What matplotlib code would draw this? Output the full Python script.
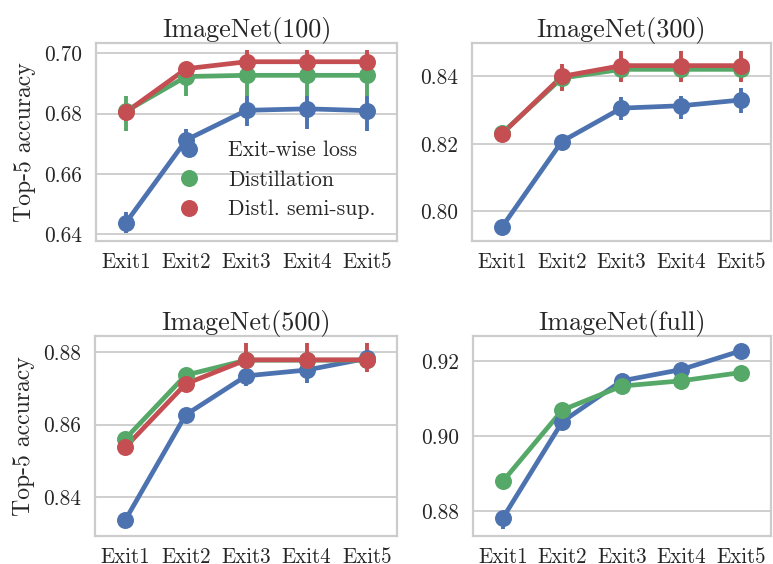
import numpy as np
import matplotlib
matplotlib.use("Agg")
import matplotlib.pyplot as plt
import seaborn as sns
from matplotlib.lines import Line2D

sns.set_style("whitegrid")
plt.rcParams['font.family'] = ['cmr10', 'DejaVu Serif']
plt.rcParams['mathtext.fontset'] = 'cm'
plt.rcParams['axes.formatter.use_mathtext'] = True

exits = ["Exit1", "Exit2", "Exit3", "Exit4", "Exit5"]
methods = ["Exit-wise loss", "Distillation", "Distl. semi-sup."]
colors = ["#4C72B0", "#55A868", "#C44E52"]
titles = ["ImageNet(100)", "ImageNet(300)", "ImageNet(500)", "ImageNet(full)"]

# mean top-5 accuracy per exit, with lower / upper confidence bounds
in100_exitwise = [0.6439, 0.6713, 0.6811, 0.6816, 0.6810]
in100_exitwise_lo = [0.6405, 0.6680, 0.6760, 0.6750, 0.6743]
in100_exitwise_hi = [0.6473, 0.6749, 0.6857, 0.6857, 0.6860]
in100_distil = [0.6808, 0.6923, 0.6927, 0.6927, 0.6927]
in100_distil_lo = [0.6744, 0.6857, 0.6857, 0.6857, 0.6857]
in100_distil_hi = [0.6857, 0.6965, 0.6980, 0.6980, 0.6980]
in100_semi = [0.6805, 0.6949, 0.6972, 0.6972, 0.6972]
in100_semi_lo = [0.6775, 0.6935, 0.6934, 0.6934, 0.6934]
in100_semi_hi = [0.6835, 0.6963, 0.7011, 0.7011, 0.7011]

in300_exitwise = [0.7954, 0.8207, 0.8306, 0.8313, 0.8330]
in300_exitwise_lo = [0.7949, 0.8199, 0.8270, 0.8275, 0.8291]
in300_exitwise_hi = [0.7959, 0.8215, 0.8339, 0.8342, 0.8366]
in300_distil = [0.8232, 0.8395, 0.8421, 0.8421, 0.8421]
in300_distil_lo = [0.8215, 0.8360, 0.8385, 0.8385, 0.8385]
in300_distil_hi = [0.8245, 0.8430, 0.8460, 0.8460, 0.8460]
in300_semi = [0.8230, 0.8400, 0.8432, 0.8432, 0.8432]
in300_semi_lo = [0.8214, 0.8356, 0.8384, 0.8384, 0.8384]
in300_semi_hi = [0.8247, 0.8438, 0.8475, 0.8475, 0.8475]

in500_exitwise = [0.8338, 0.8627, 0.8734, 0.8750, 0.8782]
in500_exitwise_lo = [0.8330, 0.8615, 0.8707, 0.8715, 0.8770]
in500_exitwise_hi = [0.8346, 0.8639, 0.8750, 0.8763, 0.8794]
in500_distil = [0.8561, 0.8736, 0.8777, 0.8777, 0.8777]
in500_distil_lo = [0.8551, 0.8726, 0.8767, 0.8767, 0.8767]
in500_distil_hi = [0.8571, 0.8746, 0.8787, 0.8787, 0.8787]
in500_semi = [0.8538, 0.8712, 0.8778, 0.8778, 0.8778]
in500_semi_lo = [0.8528, 0.8700, 0.8745, 0.8745, 0.8745]
in500_semi_hi = [0.8548, 0.8724, 0.8823, 0.8823, 0.8823]

infull_exitwise = [0.8781, 0.9038, 0.9147, 0.9177, 0.9227]
infull_exitwise_lo = [0.8753, 0.9033, 0.9142, 0.9172, 0.9222]
infull_exitwise_hi = [0.8793, 0.9043, 0.9152, 0.9182, 0.9232]
infull_distil = [0.8879, 0.9069, 0.9133, 0.9147, 0.9169]
infull_distil_lo = [0.8874, 0.9064, 0.9128, 0.9142, 0.9164]
infull_distil_hi = [0.8884, 0.9074, 0.9138, 0.9152, 0.9174]

panels = [
    [(in100_exitwise, in100_exitwise_lo, in100_exitwise_hi),
     (in100_distil, in100_distil_lo, in100_distil_hi),
     (in100_semi, in100_semi_lo, in100_semi_hi)],
    [(in300_exitwise, in300_exitwise_lo, in300_exitwise_hi),
     (in300_distil, in300_distil_lo, in300_distil_hi),
     (in300_semi, in300_semi_lo, in300_semi_hi)],
    [(in500_exitwise, in500_exitwise_lo, in500_exitwise_hi),
     (in500_distil, in500_distil_lo, in500_distil_hi),
     (in500_semi, in500_semi_lo, in500_semi_hi)],
    [(infull_exitwise, infull_exitwise_lo, infull_exitwise_hi),
     (infull_distil, infull_distil_lo, infull_distil_hi)],
]
ylims = [(0.6378, 0.7034), (0.7912, 0.8499), (0.8294, 0.8844), (0.8733, 0.9267)]
yticks = [[0.64, 0.66, 0.68, 0.70], [0.80, 0.82, 0.84],
          [0.84, 0.86, 0.88], [0.88, 0.90, 0.92]]

fig = plt.figure(figsize=(7.73, 5.64), dpi=100)
boxes = [[0.124, 0.5727, 0.390, 0.351], [0.611, 0.5727, 0.386, 0.351],
         [0.123, 0.0496, 0.391, 0.355], [0.612, 0.0496, 0.385, 0.355]]
x = np.arange(len(exits))

for i, series in enumerate(panels):
    ax = fig.add_axes(boxes[i])
    for (mean, lo, hi), c in zip(series, colors):
        ax.plot(x, mean, color=c, lw=3.4, zorder=2)
        ax.vlines(x, lo, hi, color=c, lw=2.8, zorder=2)
        ax.plot(x, mean, 'o', color=c, ms=11.2, zorder=3)
    ax.set_xlim(-0.5, 4.5)
    ax.set_ylim(*ylims[i])
    ax.set_xticks(x)
    ax.set_xticklabels(exits)
    ax.set_yticks(yticks[i])
    ax.set_yticklabels(["%.2f" % t for t in yticks[i]])
    ax.grid(False, axis='x')
    ax.grid(True, axis='y', color='#cccccc', lw=1.3)
    for s in ax.spines.values():
        s.set_color('#cccccc')
        s.set_linewidth(1.6)
    ax.tick_params(axis='x', labelsize=15.1, colors='#262626', length=0, pad=8.5)
    ax.tick_params(axis='y', labelsize=15.4, colors='#262626', length=0, pad=10)
    ax.set_title(titles[i], fontsize=18.8, color='#262626', pad=4)
    if i % 2 == 0:
        ax.set_ylabel("Top-5 accuracy", fontsize=17.1, color='#262626', labelpad=6)
    if i == 0:
        handles = [Line2D([], [], marker='o', ls='', color=c, ms=11.2) for c in colors]
        ax.legend(handles, methods, loc='center left', bbox_to_anchor=(0.208, 0.308),
                  borderaxespad=0, frameon=False, fontsize=15.6, labelspacing=0.46,
                  handlelength=2.0, handletextpad=0.8)

fig.savefig("out.png", dpi=100)
